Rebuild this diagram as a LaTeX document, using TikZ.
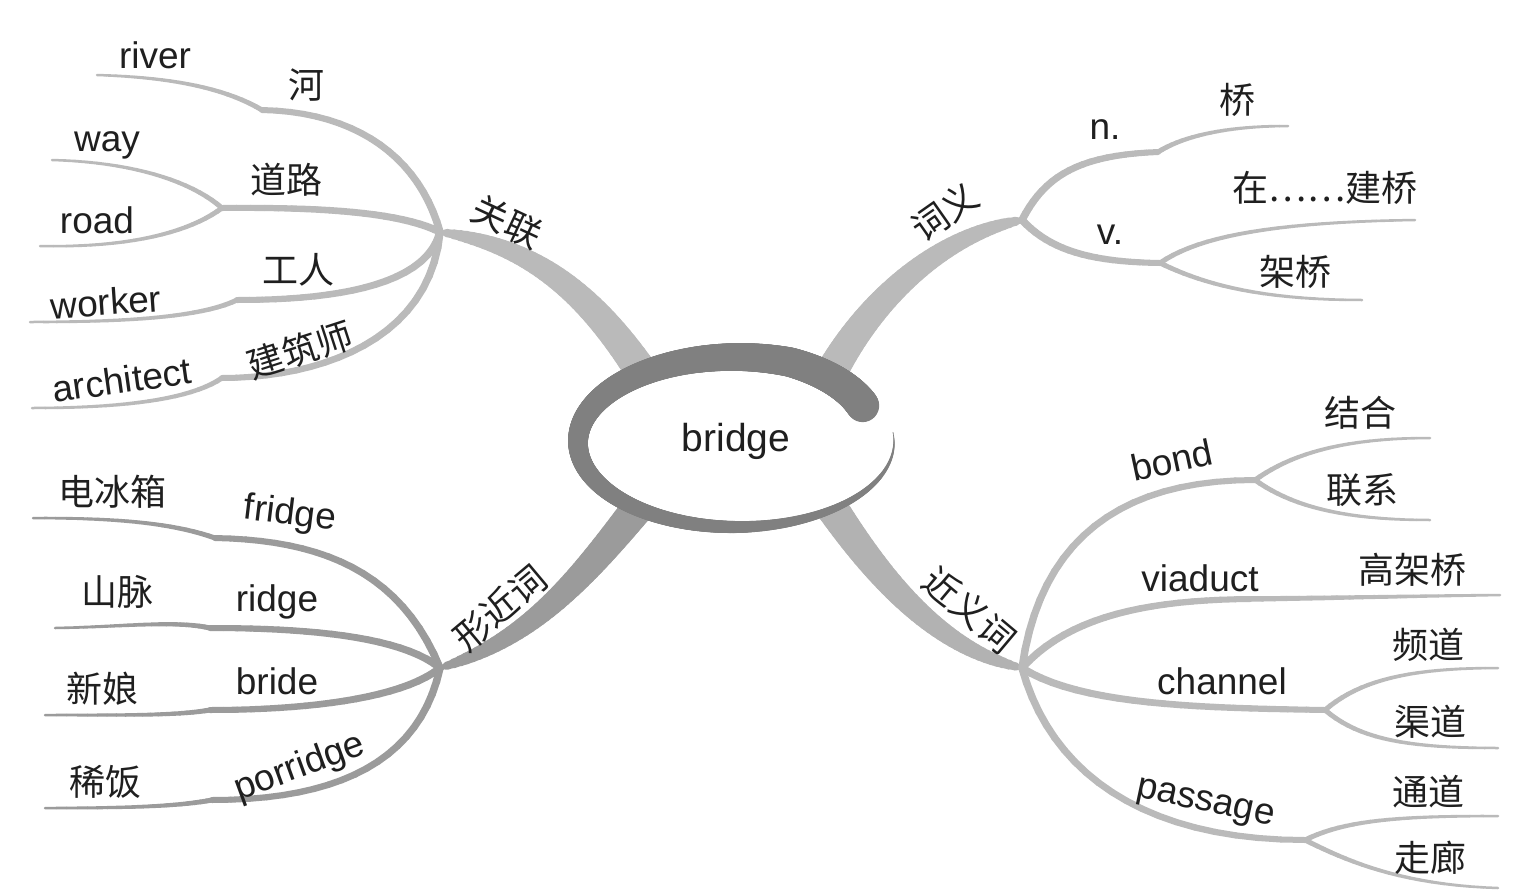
\documentclass[tikz,border=0pt]{standalone}
\usepackage{fontspec}
\setmainfont{Liberation Sans}
\newfontfamily\cjk{Noto Sans CJK SC}
\definecolor{lg}{HTML}{BABABA}
\definecolor{mg}{HTML}{B2B2B2}
\definecolor{dg}{HTML}{9B9B9B}
\definecolor{ringc}{HTML}{808080}
% tapered curve, linear taper
\newcommand\tpr[7]{%
  \path #2 .. controls #3 and #4 .. #5
    \foreach \k [evaluate=\k as \pp using \k/20] in {0,...,20}{coordinate[pos=\pp] (tq\k)};
  \foreach \k [evaluate=\k as \kn using int(\k+1), evaluate=\k as \ww using 0.5*(#6+(#7-#6)*\k/19)] in {0,...,19}{%
    \draw[#1, line width=\ww pt, line cap=round] (tq\k) -- (tq\kn);}%
}
% tapered main branch, fast widening
\newcommand\tprm[7]{%
  \path #2 .. controls #3 and #4 .. #5
    \foreach \k [evaluate=\k as \pp using \k/40] in {0,...,40}{coordinate[pos=\pp] (tq\k)};
  \foreach \k [evaluate=\k as \kn using int(\k+1), evaluate=\k as \ww using 0.5*(#6+(#7-#6)*(0.3*\k/39+0.7*sqrt(\k/39)))] in {0,...,39}{%
    \draw[#1, line width=\ww pt, line cap=round] (tq\k) -- (tq\kn);}%
}
\tikzset{
  en/.style={font=\fontsize{18.5}{22}\selectfont, text=black!88, inner sep=0pt},
  zh/.style={font=\cjk\fontsize{18}{22}\selectfont, text=black!88, inner sep=0pt},
}
\begin{document}
\begin{tikzpicture}[x=0.5pt,y=-0.5pt]
\fill[white] (0,0) rectangle (1533,890);
\path[use as bounding box] (0,0) rectangle (1533,890);
% hubs and joints
\coordinate (H1) at (440,232);
\coordinate (H2) at (1022,220);
\coordinate (H3) at (440,668);
\coordinate (H4) at (1022,668);
\coordinate (C1) at (650,385);
\coordinate (C2) at (830,375);
\coordinate (C3) at (640,505);
\coordinate (C4) at (830,505);
\coordinate (Jriv) at (262,110); \coordinate (Eriv) at (97,75);
\coordinate (Jroad) at (222,208); \coordinate (Eway) at (52,160); \coordinate (Eroad) at (40,246);
\coordinate (Jwork) at (237,300); \coordinate (Ework) at (30,322);
\coordinate (Jarch) at (222,378); \coordinate (Earch) at (32,408);
\coordinate (Jn) at (1158,152); \coordinate (En) at (1288,126);
\coordinate (Jv) at (1160,263); \coordinate (Ev1) at (1415,220); \coordinate (Ev2) at (1362,300);
\coordinate (Jf) at (215,538); \coordinate (Ef) at (33,518);
\coordinate (Jr) at (210,628); \coordinate (Er) at (55,628);
\coordinate (Jb) at (210,710); \coordinate (Eb) at (45,715);
\coordinate (Jp) at (212,800); \coordinate (Ep) at (45,808);
\coordinate (Jbo) at (1255,480); \coordinate (Ebo1) at (1430,438); \coordinate (Ebo2) at (1430,520);
\coordinate (Jvi) at (1250,599); \coordinate (Evi) at (1500,595);
\coordinate (Jch) at (1325,710); \coordinate (Ech1) at (1498,668); \coordinate (Ech2) at (1498,748);
\coordinate (Jpa) at (1305,840); \coordinate (Epa1) at (1498,816); \coordinate (Epa2) at (1498,888);
% main branches
\tprm{lg}{(H1)}{(530,245)}{(590,290)}{(C1)}{5}{33}
\tprm{lg}{(H2)}{(940,235)}{(870,300)}{(C2)}{6}{32}
\tprm{dg}{(H3)}{(530,640)}{(580,580)}{(C3)}{5}{32}
\tprm{mg}{(H4)}{(940,650)}{(880,580)}{(C4)}{5}{32}
% 关联
\tpr{lg}{(H1)}{(420,160)}{(360,112)}{(Jriv)}{7.5}{6}
\tpr{lg}{(Jriv)}{(220,85)}{(160,77)}{(Eriv)}{5}{2.5}
\tpr{lg}{(H1)}{(400,212)}{(320,207)}{(Jroad)}{7.5}{6}
\tpr{lg}{(Jroad)}{(190,180)}{(130,162)}{(Eway)}{5}{2.5}
\tpr{lg}{(Jroad)}{(190,232)}{(130,248)}{(Eroad)}{5}{2.5}
\tpr{lg}{(H1)}{(425,290)}{(320,300)}{(Jwork)}{7.5}{6}
\tpr{lg}{(Jwork)}{(200,318)}{(120,322)}{(Ework)}{5}{2.5}
\tpr{lg}{(H1)}{(430,340)}{(320,378)}{(Jarch)}{7.5}{6}
\tpr{lg}{(Jarch)}{(190,400)}{(120,408)}{(Earch)}{5}{2.5}
% 词义
\tpr{lg}{(H2)}{(1045,175)}{(1080,155)}{(Jn)}{7.5}{6}
\tpr{lg}{(Jn)}{(1185,135)}{(1230,126)}{(En)}{5}{2.5}
\tpr{lg}{(H2)}{(1050,250)}{(1090,262)}{(Jv)}{7.5}{6}
\tpr{lg}{(Jv)}{(1200,235)}{(1280,222)}{(Ev1)}{5}{2.5}
\tpr{lg}{(Jv)}{(1195,280)}{(1250,300)}{(Ev2)}{5}{2.5}
% 形近词
\tpr{dg}{(H3)}{(400,570)}{(320,540)}{(Jf)}{7.5}{6}
\tpr{dg}{(Jf)}{(170,522)}{(110,518)}{(Ef)}{5}{2.5}
\tpr{dg}{(H3)}{(400,635)}{(300,628)}{(Jr)}{7.5}{6}
\tpr{dg}{(Jr)}{(175,620)}{(120,627)}{(Er)}{5}{2.5}
\tpr{dg}{(H3)}{(400,700)}{(300,710)}{(Jb)}{7.5}{6}
\tpr{dg}{(Jb)}{(175,716)}{(120,715)}{(Eb)}{5}{2.5}
\tpr{dg}{(H3)}{(420,760)}{(340,800)}{(Jp)}{7.5}{6}
\tpr{dg}{(Jp)}{(175,807)}{(120,808)}{(Ep)}{5}{2.5}
% 近义词
\tpr{lg}{(H4)}{(1040,540)}{(1120,480)}{(Jbo)}{7.5}{6}
\tpr{lg}{(Jbo)}{(1290,455)}{(1340,438)}{(Ebo1)}{5}{2.5}
\tpr{lg}{(Jbo)}{(1290,505)}{(1340,520)}{(Ebo2)}{5}{2.5}
\tpr{lg}{(H4)}{(1070,615)}{(1150,600)}{(Jvi)}{7.5}{6}
\tpr{lg}{(Jvi)}{(1330,598)}{(1420,596)}{(Evi)}{5.5}{2.5}
\tpr{lg}{(H4)}{(1080,705)}{(1200,708)}{(Jch)}{7.5}{6}
\tpr{lg}{(Jch)}{(1360,680)}{(1410,668)}{(Ech1)}{5}{2.5}
\tpr{lg}{(Jch)}{(1360,740)}{(1410,748)}{(Ech2)}{5}{2.5}
\tpr{lg}{(H4)}{(1050,770)}{(1140,840)}{(Jpa)}{7.5}{6}
\tpr{lg}{(Jpa)}{(1345,820)}{(1400,816)}{(Epa1)}{5}{2.5}
\tpr{lg}{(Jpa)}{(1345,860)}{(1400,885)}{(Epa2)}{5}{2.5}
% centre
\fill[white] (736,442) ellipse [x radius=160, y radius=88];
\foreach \a [remember=\a as \b (initially 28.1)] in {28.6,29.1,...,366.6} {
  \pgfmathsetmacro\fa{\a<70 ? 0.91+0.09*(\a-28.6)/41.4 : 1}
  \pgfmathsetmacro\fb{\b<70 ? 0.91+0.09*(\b-28.6)/41.4 : 1}
  \pgfmathsetmacro\w{0.5*(\a<270 ? 33-(\a-28.6)*0.0871 : (\a<345 ? 12-(\a-270)*0.12 : max(0.6,3-(\a-345)*0.12)))}
  \draw[ringc, line width=\w pt, line cap=round]
    ({736+\fb*158*cos(\b)},{442-\fb*85*sin(\b)}) -- ({736+\fa*158*cos(\a)},{442-\fa*85*sin(\a)});
}
\node[en, font=\fontsize{19.5}{22}\selectfont] (tbridge) at (736,441) {bridge};
% labels 关联
\node[zh, rotate=-25] (t1) at (507,222) {关联};
\node[en] (triver) at (155,55) {river};
\node[zh] (the) at (306,85) {河};
\node[en] (tway) at (107,145) {way};
\node[zh] (tdaolu) at (286,180) {道路};
\node[en] (troad) at (97,220) {road};
\node[zh] (tgongren) at (298,270) {工人};
\node[en, rotate=4] (tworker) at (106,302) {worker};
\node[zh, rotate=18] (tjzs) at (300,350) {建筑师};
\node[en, rotate=8] (tarch) at (122,380) {architect};
% 词义
\node[zh, rotate=35] (t2) at (945,212) {词义};
\node[en] (tn) at (1105,130) {n.};
\node[zh] (tqiao) at (1237,100) {桥};
\node[en] (tv) at (1110,235) {v.};
\node[zh] (tzai) at (1325,188) {在……建桥};
\node[zh] (tjiaqiao) at (1295,272) {架桥};
% 形近词
\node[zh, rotate=40] (t3) at (500,608) {形近词};
\node[zh] (tdbx) at (112,492) {电冰箱};
\node[en, rotate=-7] (tfridge) at (290,515) {fridge};
\node[zh] (tsm) at (117,592) {山脉};
\node[en] (tridge) at (277,602) {ridge};
\node[zh] (txn) at (103,689) {新娘};
\node[en] (tbride) at (277,681) {bride};
\node[zh] (txf) at (105,782) {稀饭};
\node[en, rotate=20] (tporridge) at (300,768) {porridge};
% 近义词
\node[zh, rotate=-40] (t4) at (970,610) {近义词};
\node[en, rotate=12] (tbond) at (1172,460) {bond};
\node[zh] (tjh) at (1360,413) {结合};
\node[zh] (tlx) at (1362,490) {联系};
\node[en] (tviaduct) at (1200,578) {viaduct};
\node[zh] (tgjq) at (1412,570) {高架桥};
\node[zh] (tpd) at (1428,645) {频道};
\node[en] (tchannel) at (1222,681) {channel};
\node[zh] (tqd) at (1430,722) {渠道};
\node[en, rotate=-12] (tpassage) at (1205,805) {passage};
\node[zh] (ttd) at (1428,792) {通道};
\node[zh] (tzl) at (1430,858) {走廊};
\end{tikzpicture}
\end{document}
